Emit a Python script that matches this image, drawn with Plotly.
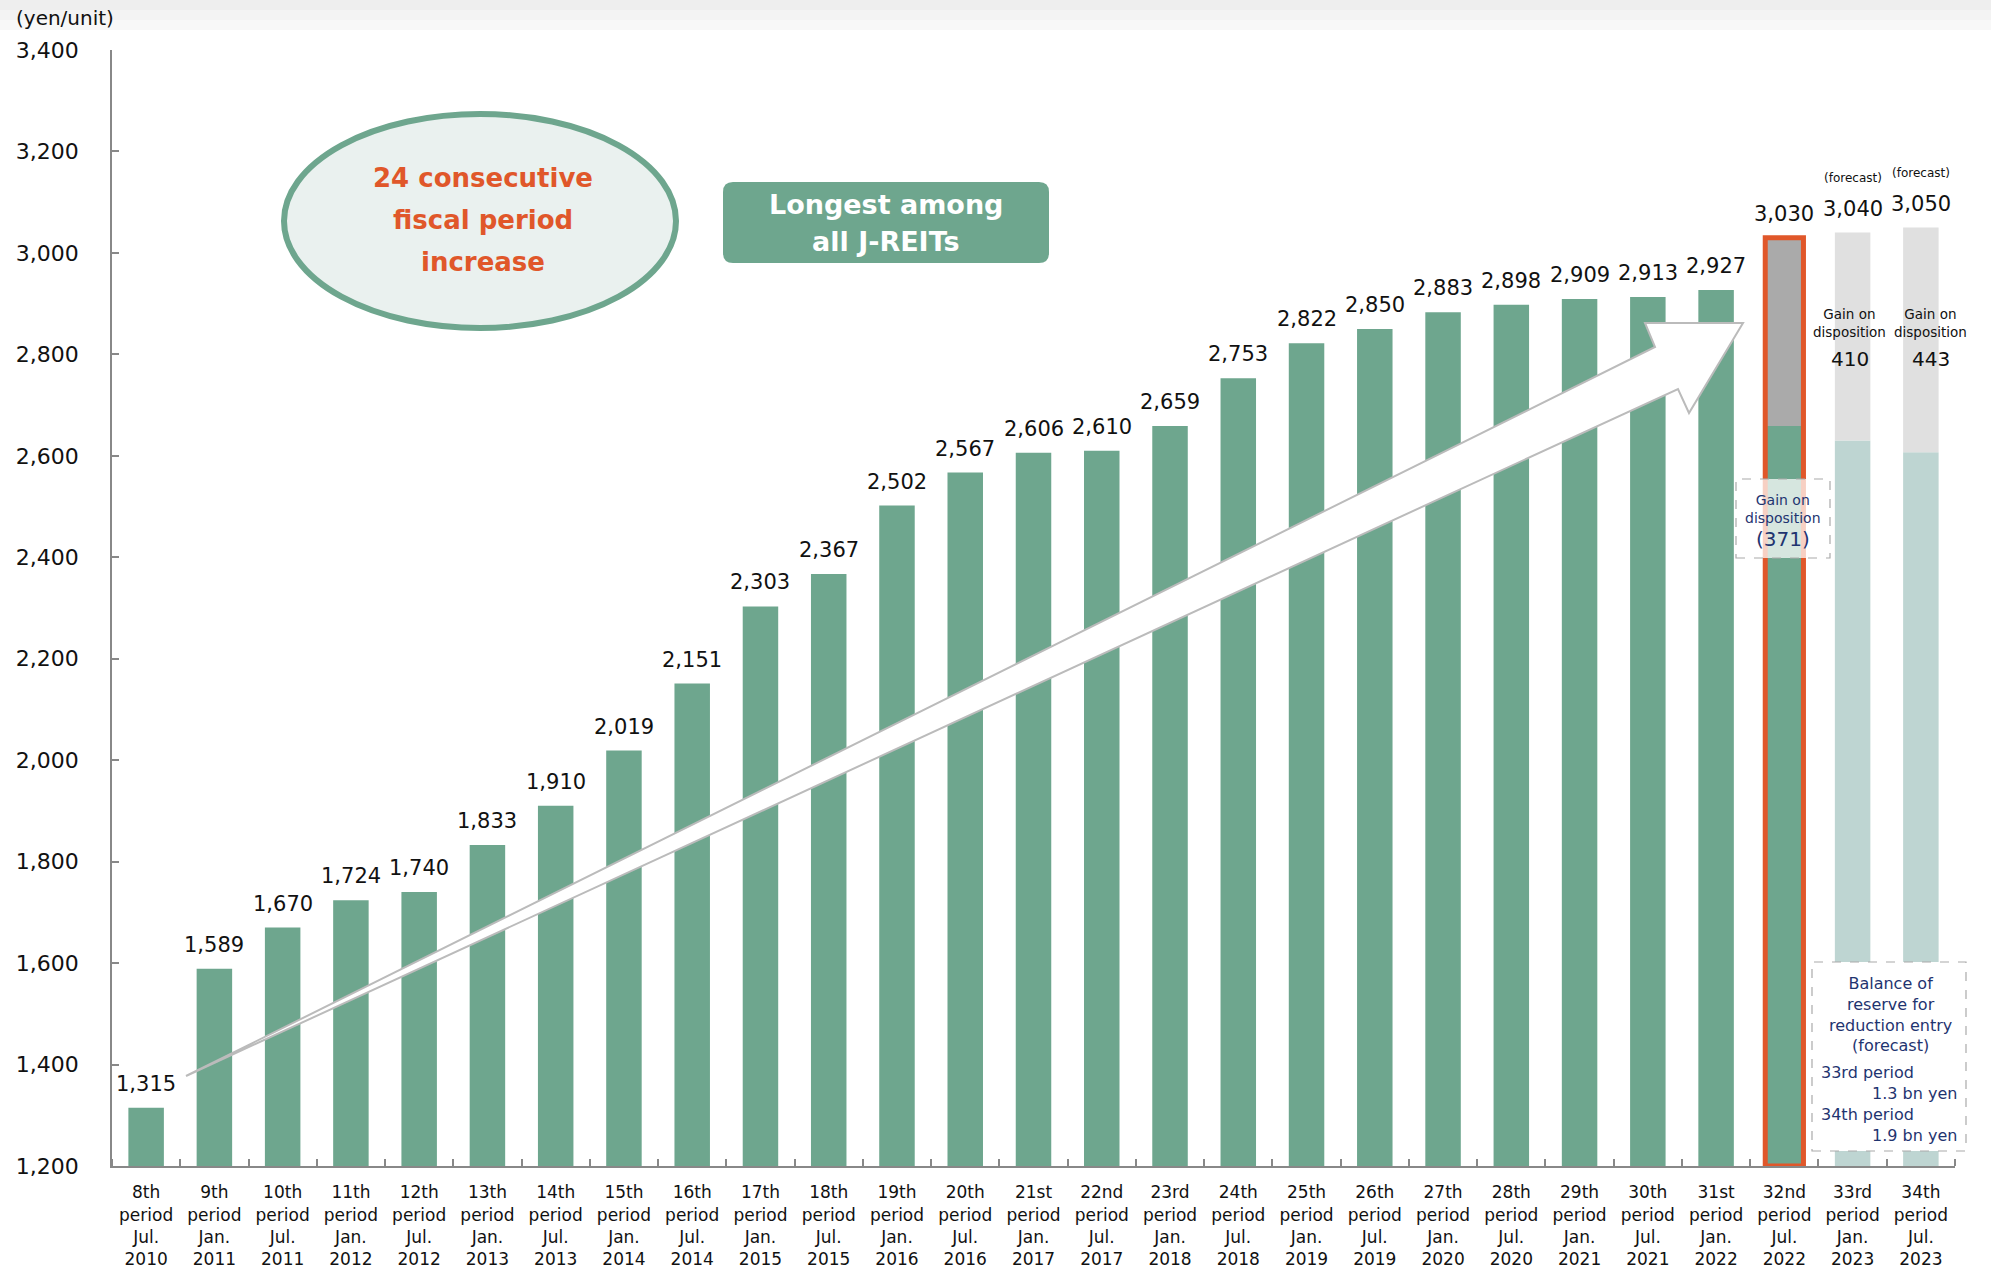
import plotly.graph_objects as go

# ---------------- data ----------------
periods = ["8th", "9th", "10th", "11th", "12th", "13th", "14th", "15th", "16th",
           "17th", "18th", "19th", "20th", "21st", "22nd", "23rd", "24th", "25th",
           "26th", "27th", "28th", "29th", "30th", "31st", "32nd", "33rd", "34th"]
halves = ["Jul.", "Jan.", "Jul.", "Jan.", "Jul.", "Jan.", "Jul.", "Jan.", "Jul.",
          "Jan.", "Jul.", "Jan.", "Jul.", "Jan.", "Jul.", "Jan.", "Jul.", "Jan.",
          "Jul.", "Jan.", "Jul.", "Jan.", "Jul.", "Jan.", "Jul.", "Jan.", "Jul."]
years = ["2010", "2011", "2011", "2012", "2012", "2013", "2013", "2014", "2014",
         "2015", "2015", "2016", "2016", "2017", "2017", "2018", "2018", "2019",
         "2019", "2020", "2020", "2021", "2021", "2022", "2022", "2023", "2023"]
dpu = [1315, 1589, 1670, 1724, 1740, 1833, 1910, 2019, 2151, 2303, 2367, 2502,
       2567, 2606, 2610, 2659, 2753, 2822, 2850, 2883, 2898, 2909, 2913, 2927,
       3030, 3040, 3050]
gain = [0, 0, 0, 0, 0, 0, 0, 0, 0, 0, 0, 0, 0, 0, 0, 0, 0, 0, 0, 0, 0, 0, 0, 0,
        371, 410, 443]
is_forecast = [False] * 25 + [True, True]
highlight_index = 24  # 32nd period

y_min, y_max = 1200, 3400

# ---------------- styles ----------------
GREEN = "#6ea68e"
TEAL_LIGHT = "#bed5d2"
GRAY_GAIN = "#aaaaaa"
GRAY_LIGHT = "#e0e0e0"
ORANGE = "#e0572a"
NAVY = "#1f3470"
FONT = "DejaVu Sans"

W, H = 1991, 1269
L, R, T, B = 112, 36, 50, 103
PW, PH = W - L - R, H - T - B


def px(X):
    return (X - L) / PW


def py(Y):
    return (H - B - Y) / PH


n = len(dpu)
xs = list(range(n))
base_vals = [d - g for d, g in zip(dpu, gain)]
base_colors = [TEAL_LIGHT if f else GREEN for f in is_forecast]
gain_x = [i for i in xs if gain[i] > 0]
gain_base = [base_vals[i] for i in gain_x]
gain_vals = [gain[i] for i in gain_x]
gain_colors = [GRAY_LIGHT if is_forecast[i] else GRAY_GAIN for i in gain_x]

fig = go.Figure()
fig.add_trace(go.Bar(x=xs, y=base_vals, marker=dict(color=base_colors, line=dict(width=0)),
                     width=0.52, hoverinfo="skip"))
fig.add_trace(go.Bar(x=gain_x, y=gain_vals, base=gain_base,
                     marker=dict(color=gain_colors, line=dict(width=0)),
                     width=0.52, hoverinfo="skip"))
fig.add_trace(go.Bar(x=[highlight_index], y=[dpu[highlight_index] - y_min], base=[y_min],
                     marker=dict(color="rgba(0,0,0,0)", line=dict(color=ORANGE, width=5)),
                     width=0.56, hoverinfo="skip"))

ticktext = [f"{p}<br>period<br>{h}<br>{y}" for p, h, y in zip(periods, halves, years)]

shapes = []
annotations = []

# top faint gradient band
for y0, y1, c in [(0, 10, "#eeeeee"), (10, 20, "#f3f3f3"), (20, 30, "#f8f8f8")]:
    shapes.append(dict(type="rect", xref="paper", yref="paper", x0=px(0), x1=px(W),
                       y0=py(y1), y1=py(y0), fillcolor=c, line=dict(width=0), layer="below"))

# ellipse
shapes.append(dict(type="circle", xref="paper", yref="paper",
                   x0=px(284), x1=px(676), y0=py(328), y1=py(114),
                   fillcolor="#eaf1ef", line=dict(color=GREEN, width=6), layer="above"))
for txt, Y in [("24 consecutive", 178), ("fiscal period", 220), ("increase", 262)]:
    annotations.append(dict(xref="paper", yref="paper", x=px(483), y=py(Y), text=f"<b>{txt}</b>",
                            showarrow=False, font=dict(family=FONT, size=26, color=ORANGE),
                            xanchor="center", yanchor="middle"))

# rounded green box
bx0, bx1, by0, by1, rr = 723, 1049, 182, 263, 10
path = (f"M {px(bx0 + rr)} {py(by0)} L {px(bx1 - rr)} {py(by0)} "
        f"Q {px(bx1)} {py(by0)} {px(bx1)} {py(by0 + rr)} "
        f"L {px(bx1)} {py(by1 - rr)} Q {px(bx1)} {py(by1)} {px(bx1 - rr)} {py(by1)} "
        f"L {px(bx0 + rr)} {py(by1)} Q {px(bx0)} {py(by1)} {px(bx0)} {py(by1 - rr)} "
        f"L {px(bx0)} {py(by0 + rr)} Q {px(bx0)} {py(by0)} {px(bx0 + rr)} {py(by0)} Z")
shapes.append(dict(type="path", xref="paper", yref="paper", path=path,
                   fillcolor=GREEN, line=dict(width=0), layer="above"))
for txt, Y in [("Longest among", 205), ("all J-REITs", 241)]:
    annotations.append(dict(xref="paper", yref="paper", x=px(886), y=py(Y), text=f"<b>{txt}</b>",
                            showarrow=False, font=dict(family=FONT, size=27, color="white"),
                            xanchor="center", yanchor="middle"))

# big arrow
pts = [(186, 1076), (1655, 347), (1645, 323), (1743, 323), (1689, 413), (1678, 389)]
apath = "M " + " L ".join(f"{px(X)} {py(Y)}" for X, Y in pts) + " Z"
shapes.append(dict(type="path", xref="paper", yref="paper", path=apath,
                   fillcolor="white", line=dict(color="#bbbbbb", width=2), layer="above"))

# gain on disposition (371) box
shapes.append(dict(type="rect", xref="paper", yref="paper", x0=px(1736), x1=px(1830),
                   y0=py(558), y1=py(479), fillcolor="rgba(255,255,255,0.72)",
                   line=dict(color="#aaaaaa", width=1.2, dash="dash"), layer="above"))
annotations.append(dict(xref="paper", yref="paper", x=px(1783), y=py(509),
                        text="Gain on<br>disposition", showarrow=False,
                        font=dict(family=FONT, size=14, color=NAVY),
                        xanchor="center", yanchor="middle"))
annotations.append(dict(xref="paper", yref="paper", x=px(1783), y=py(539),
                        text=f"({gain[highlight_index]})", showarrow=False,
                        font=dict(family=FONT, size=20, color=NAVY),
                        xanchor="center", yanchor="middle"))

# balance box
shapes.append(dict(type="rect", xref="paper", yref="paper", x0=px(1812), x1=px(1966),
                   y0=py(1151), y1=py(962), fillcolor="white",
                   line=dict(color="#aaaaaa", width=1.2, dash="dash"), layer="above"))
annotations.append(dict(xref="paper", yref="paper", x=px(1890), y=py(1014),
                        text="Balance of<br>reserve for<br>reduction entry<br>(forecast)",
                        showarrow=False, font=dict(family=FONT, size=16, color=NAVY),
                        xanchor="center", yanchor="middle"))
for txt, X, Y, anc in [("33rd period", 1819, 1072, "left"), ("1.3 bn yen", 1959, 1093, "right"),
                       ("34th period", 1819, 1114, "left"), ("1.9 bn yen", 1959, 1135, "right")]:
    annotations.append(dict(xref="paper", yref="paper", x=px(X), y=py(Y), text=txt,
                            showarrow=False, font=dict(family=FONT, size=16, color=NAVY),
                            xanchor=anc, yanchor="middle"))

# value labels
forecast_shift = {25: -3, 26: 10}
for i in xs:
    annotations.append(dict(x=i, y=dpu[i], xref="x", yref="y", text=f"{dpu[i]:,}",
                            showarrow=False, yshift=24, yanchor="middle",
                            font=dict(family=FONT, size=21, color="#111111")))
    if is_forecast[i]:
        annotations.append(dict(x=i, y=dpu[i], xref="x", yref="y", text="(forecast)",
                                showarrow=False, yshift=55, yanchor="middle",
                                font=dict(family=FONT, size=12, color="#111111")))
        annotations.append(dict(x=i, xref="x", yref="paper", y=py(323),
                                text="Gain on<br>disposition", showarrow=False,
                                xshift=forecast_shift.get(i, 0),
                                yanchor="middle", font=dict(family=FONT, size=13.5, color="#111111")))
        annotations.append(dict(x=i, xref="x", yref="paper", y=py(359),
                                text=f"{gain[i]}", showarrow=False,
                                xshift=forecast_shift.get(i, 0),
                                yanchor="middle", font=dict(family=FONT, size=20, color="#111111")))

annotations.append(dict(xref="paper", yref="paper", x=px(14), y=py(18), text="(yen/unit)",
                        showarrow=False, xanchor="left", yanchor="middle",
                        font=dict(family=FONT, size=20, color="#111111")))

fig.update_layout(
    width=W, height=H,
    margin=dict(l=L, r=R, t=T, b=B, pad=0, autoexpand=False),
    paper_bgcolor="white", plot_bgcolor="white",
    barmode="overlay", showlegend=False,
    font=dict(family=FONT, color="#111111"),
    shapes=shapes, annotations=annotations,
    xaxis=dict(range=[-0.5, n - 0.5], tickmode="array", tickvals=xs, ticktext=ticktext,
               showline=True, linecolor="#888888", linewidth=2, ticks="",
               showgrid=False, zeroline=False, ticklabelstandoff=10, automargin=False,
               tickfont=dict(family=FONT, size=17, color="#111111"),
               minor=dict(tickmode="linear", tick0=-0.5, dtick=1, ticks="inside",
                          ticklen=7, tickcolor="#888888", tickwidth=1.5, showgrid=False)),
    yaxis=dict(range=[y_min, y_max], dtick=200, tick0=y_min, tickformat=",",
               showline=True, linecolor="#888888", linewidth=1.5, ticks="inside",
               ticklen=7, tickcolor="#888888", tickwidth=1.5, showgrid=False, zeroline=False,
               ticklabelstandoff=27, automargin=False,
               tickfont=dict(family=FONT, size=22, color="#111111")),
)

fig.write_html("out.html", config={"displayModeBar": False},
               post_script="document.body.style.margin='0px';")
